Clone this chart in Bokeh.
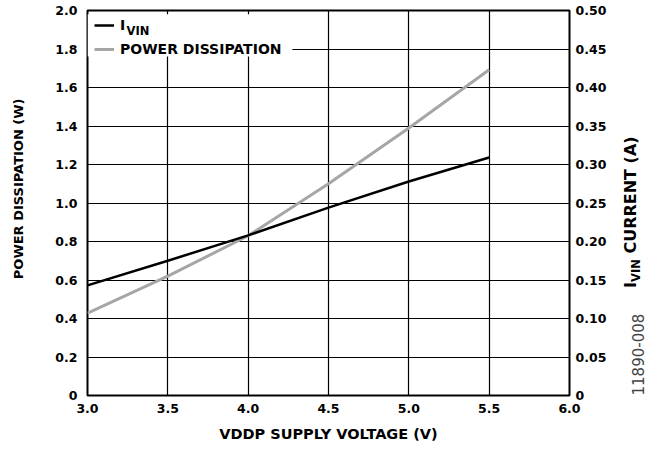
from math import pi
from bokeh.plotting import figure
from bokeh.models import (Range1d, LinearAxis, FixedTicker, NumeralTickFormatter,
                          Legend, LegendItem, BoxAnnotation)
from bokeh.core.properties import value
from bokeh.embed import file_html
from bokeh.resources import INLINE

# ---- data ----
voltage = [3.0, 3.5, 4.0, 4.5, 5.0, 5.5]
ivin_current = [0.143, 0.175, 0.208, 0.244, 0.278, 0.309]
power_dissipation = [0.428, 0.620, 0.830, 1.100, 1.390, 1.692]

x_ticks = [3.0, 3.5, 4.0, 4.5, 5.0, 5.5, 6.0]
power_ticks = [0.0, 0.2, 0.4, 0.6, 0.8, 1.0, 1.2, 1.4, 1.6, 1.8, 2.0]
current_ticks = [0.0, 0.05, 0.10, 0.15, 0.20, 0.25, 0.30, 0.35, 0.40, 0.45, 0.50]

x_title = "VDDP SUPPLY VOLTAGE (V)"
left_title = "POWER DISSIPATION (W)"
right_title_main = ["I", "CURRENT (A)"]
right_title_sub = "VIN"
legend_labels = ["I", "POWER DISSIPATION"]
legend_sub = "VIN"
figure_id = "11890-008"

# layout positions of the texts (axis units)
left_title_pos = [1.543]
right_title_pos = [0.1396, 0.1843]
right_sub_pos = [0.1474]
figure_id_pos = [0.0]
legend_sub_pos = ([3.243], [1.8945])
legend_box = dict(left=3.0, right=4.275, top=1.98, bottom=1.761)

FONT = "DejaVu Sans"
GRAY = "#a6a6a6"

p = figure(width=660, height=451, x_range=Range1d(3, 6), y_range=Range1d(0, 2),
           output_backend="svg", toolbar_location=None,
           min_border_left=87, min_border_right=91, min_border_top=10, min_border_bottom=56)
p.extra_y_ranges = {"i": Range1d(0, 0.5)}

p.outline_line_color = "black"
p.outline_line_width = 2
p.background_fill_color = "white"
p.border_fill_color = "white"

# axes
p.xaxis.ticker = FixedTicker(ticks=x_ticks)
p.xaxis.formatter = NumeralTickFormatter(format="0.0")
p.yaxis.ticker = FixedTicker(ticks=power_ticks)
p.yaxis.formatter = NumeralTickFormatter(format="0.0")
p.yaxis.major_label_overrides = {0: "0"}

raxis = LinearAxis(y_range_name="i", ticker=FixedTicker(ticks=current_ticks),
                   formatter=NumeralTickFormatter(format="0.00"))
raxis.major_label_overrides = {0: "0"}
p.add_layout(raxis, "right")


def plain(ax, size, style="bold", color="black"):
    ax.axis_line_color = None
    ax.major_tick_line_color = None
    ax.minor_tick_line_color = None
    ax.major_tick_out = 0
    ax.major_tick_in = 0
    ax.minor_tick_out = 0
    ax.minor_tick_in = 0
    ax.major_label_text_font = FONT
    ax.major_label_text_font_style = style
    ax.major_label_text_font_size = size
    ax.major_label_text_color = color


for ax in [p.xaxis[0], p.yaxis[0], raxis]:
    plain(ax, "12.5px")
p.xaxis.major_label_standoff = 8
p.yaxis.major_label_standoff = 10
raxis.major_label_standoff = 6

p.xaxis.axis_label = x_title
p.xaxis.axis_label_standoff = 10
p.xaxis.axis_label_text_font = FONT
p.xaxis.axis_label_text_font_style = "bold"
p.xaxis.axis_label_text_font_size = "14.5px"
p.xaxis.axis_label_text_color = "black"

# left title, drawn as axis text so that it can sit where the reference has it
l_title = LinearAxis(ticker=FixedTicker(ticks=left_title_pos),
                     major_label_overrides={left_title_pos[0]: left_title},
                     major_label_orientation=pi / 2, major_label_standoff=34)
plain(l_title, "13px")
p.add_layout(l_title, "left")

# right-side title with subscript and the figure id, drawn as axis text
r_title = LinearAxis(y_range_name="i", ticker=FixedTicker(ticks=right_title_pos),
                     major_label_overrides=dict(zip(right_title_pos, right_title_main)),
                     major_label_orientation=pi / 2, major_label_standoff=21)
plain(r_title, "16px")
p.add_layout(r_title, "right")

r_sub = LinearAxis(y_range_name="i", ticker=FixedTicker(ticks=right_sub_pos),
                   major_label_overrides={right_sub_pos[0]: right_title_sub},
                   major_label_orientation=pi / 2, major_label_standoff=-16)
plain(r_sub, "11.5px")
p.add_layout(r_sub, "right")

r_id = LinearAxis(y_range_name="i", ticker=FixedTicker(ticks=figure_id_pos),
                  major_label_overrides={figure_id_pos[0]: figure_id},
                  major_label_orientation=pi / 2, major_label_standoff=-16)
plain(r_id, "15px", style="normal", color="#444444")
p.add_layout(r_id, "right")

# grid
p.xgrid.ticker = FixedTicker(ticks=x_ticks)
p.ygrid.ticker = FixedTicker(ticks=power_ticks)
for g in [p.xgrid[0], p.ygrid[0]]:
    g.grid_line_color = "black"
    g.grid_line_width = 1.2

# white area behind the legend (hides the grid there)
p.add_layout(BoxAnnotation(fill_color="white", fill_alpha=1.0, line_color=None,
                           level="underlay", **legend_box))

# lines
r_p = p.line(voltage, power_dissipation, line_color=GRAY, line_width=3)
r_i = p.line(voltage, ivin_current, y_range_name="i", line_color="black", line_width=2.5)

legend = Legend(items=[LegendItem(label=legend_labels[0], renderers=[r_i]),
                       LegendItem(label=legend_labels[1], renderers=[r_p])],
                location="top_left", margin=7, padding=12, spacing=8,
                glyph_width=20, glyph_height=16, label_height=16, label_standoff=6,
                border_line_color=None, background_fill_alpha=0.0,
                label_text_font=FONT, label_text_font_style="bold",
                label_text_font_size="14px", label_text_color="black")
p.add_layout(legend)

# legend subscript
p.text(x=legend_sub_pos[0], y=legend_sub_pos[1], text=[legend_sub],
       text_font=value(FONT), text_font_style="bold", text_font_size="11.5px",
       text_color="black", text_baseline="middle", text_align="left")

open("out.html", "w").write(file_html(p, INLINE))
